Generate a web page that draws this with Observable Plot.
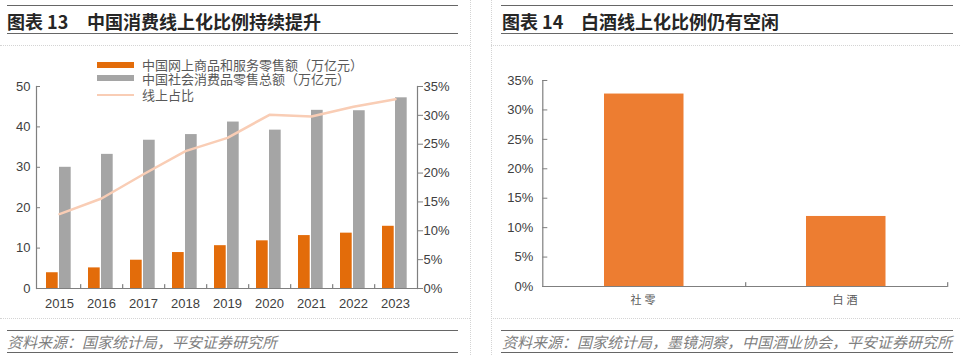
<!DOCTYPE html>
<html><head><meta charset="utf-8">
<script src="https://cdn.jsdelivr.net/npm/d3@7"></script>
<script src="https://cdn.jsdelivr.net/npm/@observablehq/plot@0.6"></script>
<style>
body{margin:0;background:#fff;width:960px;height:355px;position:relative;overflow:hidden;font-family:"Noto Sans CJK SC",sans-serif;}
.rule{position:absolute;height:0;border-top:1.5px solid #666;}
.title{position:absolute;font-size:18px;font-weight:bold;color:#262626;line-height:24px;white-space:nowrap;}
.title .num{display:inline-block;}
.src{position:absolute;font-size:15px;font-style:italic;color:#7f7f7f;line-height:20px;white-space:nowrap;}
.dot-h{position:absolute;height:0;border-top:1px dotted #d4d4d4;}
.dot-v{position:absolute;width:0;border-left:1px dotted #d4d4d4;}
.leg{position:absolute;font-size:13px;color:#595959;line-height:12px;white-space:nowrap;}
.sw{position:absolute;}
.plot{position:absolute;}
</style></head>
<body>
<div class="dot-h" style="left:0;top:45px;width:470px"></div>
<div class="dot-h" style="left:491px;top:45px;width:469px"></div>
<div class="dot-h" style="left:0;top:318px;width:470px"></div>
<div class="dot-h" style="left:491px;top:318px;width:469px"></div>
<div class="dot-v" style="left:470px;top:0;height:355px"></div>
<div class="dot-v" style="left:491px;top:0;height:355px"></div>

<div class="rule" style="left:7px;top:5px;width:451px"></div>
<div class="title" style="left:7px;top:9px"><span class="num" style="width:80px">图表 13</span>中国消费线上化比例持续提升</div>
<div class="rule" style="left:7px;top:33px;width:451px"></div>

<div class="rule" style="left:501px;top:5px;width:452px"></div>
<div class="title" style="left:502px;top:9px"><span class="num" style="width:79px">图表 14</span>白酒线上化比例仍有空闲</div>
<div class="rule" style="left:501px;top:33px;width:452px"></div>

<div id="left" class="plot" style="left:0;top:50px;width:470px;height:260px"></div>
<div id="leftOver" class="plot" style="left:0;top:50px;width:470px;height:260px"></div>
<div id="right" class="plot" style="left:492px;top:50px;width:468px;height:260px"></div>

<div id="legend"></div>

<div class="rule" style="left:7px;top:330px;width:451px"></div>
<div class="src" style="left:7px;top:332px">资料来源：国家统计局，平安证券研究所</div>
<div class="rule" style="left:7px;top:352px;width:451px"></div>

<div class="rule" style="left:501px;top:330px;width:452px"></div>
<div class="src" style="left:502px;top:332px">资料来源：国家统计局，墨镜洞察，中国酒业协会，平安证券研究所</div>
<div class="rule" style="left:501px;top:352px;width:452px"></div>

<script>
// ---------- data ----------
const years = ["2015","2016","2017","2018","2019","2020","2021","2022","2023"];
const onlineSales = [3.9, 5.1, 7.0, 8.9, 10.6, 11.8, 13.1, 13.7, 15.4];   // 中国网上商品和服务零售额（万亿元）
const totalSales  = [30.0, 33.2, 36.7, 38.1, 41.2, 39.2, 44.1, 44.0, 47.2]; // 中国社会消费品零售总额（万亿元）
const onlineShare = [0.129, 0.156, 0.198, 0.238, 0.261, 0.301, 0.298, 0.315, 0.328]; // 线上占比
const leftTicks = [0, 10, 20, 30, 40, 50];
const pctTicks = [0, 0.05, 0.10, 0.15, 0.20, 0.25, 0.30, 0.35];
const seriesNames = ["中国网上商品和服务零售额（万亿元）", "中国社会消费品零售总额（万亿元）", "线上占比"];

const cats = ["社零", "白酒"];
const catShare = [0.327, 0.119];

// ---------- styles ----------
const ORANGE = "#e36c0a", GRAY = "#a5a5a5", LINE = "#f9cdb5", ORANGE2 = "#ed7d31";
const AX = "#7f7f7f", TXT = "#404040";
const NUMFONT = "'Liberation Sans', Arial, sans-serif";
const CJK = "'Noto Sans CJK SC', sans-serif";
const pct = d => Math.round(d * 100) + "%";
const tickUp = {draw(context, l) { context.moveTo(0, 0); context.lineTo(0, -l); }};

const rows = years.map((y, i) => ({year: y, online: onlineSales[i], total: totalSales[i], share: onlineShare[i]}));
const rows2 = cats.map((c, i) => ({cat: c, share: catShare[i]}));

// ---------- left chart ----------
const LW = 470, LH = 260, LML = 36, LMR = 53, LMT = 36, LMB = 22;
const bw = (LW - LML - LMR) / years.length;
const baseStyle = {fontFamily: NUMFONT, fontSize: "13px", color: TXT, background: "transparent", overflow: "visible"};

const leftPlot = Plot.plot({
  width: LW, height: LH, marginLeft: LML, marginRight: LMR, marginTop: LMT, marginBottom: LMB,
  style: baseStyle,
  x: {type: "band", domain: years, padding: 0},
  y: {domain: [0, 50]},
  marks: [
    Plot.barY(rows, {x: "year", y: "online", fill: ORANGE, insetLeft: 8, insetRight: 22.3}),
    Plot.barY(rows, {x: "year", y: "total", fill: GRAY, insetLeft: 21, insetRight: 9.3}),
    Plot.ruleY([0], {stroke: AX, strokeWidth: 1.2}),
    Plot.frame({anchor: "left", stroke: AX, strokeWidth: 1.2}),
    Plot.vector(years.slice(0, -1), {x: d => d, y: () => 0, dx: bw / 2, length: 4, anchor: "start", shape: tickUp, stroke: AX, strokeWidth: 1.2}),
    Plot.axisY({ticks: leftTicks, tickSize: -4, tickPadding: 10, tickFormat: d => d, stroke: AX, fill: TXT, label: null}),
    Plot.axisX({tickSize: 0, tickPadding: 10, fill: TXT, label: null})
  ]
});
document.getElementById("left").appendChild(leftPlot);

const overPlot = Plot.plot({
  width: LW, height: LH, marginLeft: LML, marginRight: LMR, marginTop: LMT, marginBottom: LMB,
  style: baseStyle,
  x: {type: "band", domain: years, padding: 0, axis: null},
  y: {domain: [0, 0.35]},
  marks: [
    Plot.line(rows, {x: "year", y: "share", stroke: LINE, strokeWidth: 2.5}),
    Plot.frame({anchor: "right", stroke: AX, strokeWidth: 1.2}),
    Plot.axisY({anchor: "right", ticks: pctTicks, tickSize: 5, tickPadding: 1, tickFormat: pct, stroke: AX, fill: TXT, label: null})
  ]
});
document.getElementById("leftOver").appendChild(overPlot);

// legend (HTML, over the top of the left chart)
const legend = document.getElementById("legend");
const legItems = [
  {color: ORANGE, y: 62, h: 6, cy: 65},
  {color: GRAY, y: 75, h: 6, cy: 79},
  {color: LINE, y: 93.5, h: 2, cy: 94.5}
];
legItems.forEach((it, i) => {
  const sw = document.createElement("div");
  sw.className = "sw";
  sw.style.cssText = `left:97px;top:${it.y}px;width:37px;height:${it.h}px;background:${it.color}`;
  legend.appendChild(sw);
  const t = document.createElement("div");
  t.className = "leg";
  t.style.cssText = `left:142px;top:${it.cy - 6}px`;
  t.textContent = seriesNames[i];
  legend.appendChild(t);
});

// ---------- right chart ----------
const RW = 468, RH = 260, RML = 50.3, RMR = 13, RMT = 30, RMB = 24;
const bw2 = (RW - RML - RMR) / cats.length;
const rightPlot = Plot.plot({
  width: RW, height: RH, marginLeft: RML, marginRight: RMR, marginTop: RMT, marginBottom: RMB,
  style: baseStyle,
  x: {type: "band", domain: cats, padding: 0},
  y: {domain: [0, 0.35]},
  marks: [
    Plot.barY(rows2, {x: "cat", y: "share", fill: ORANGE2, insetLeft: 61, insetRight: 61.5}),
    Plot.ruleY([0], {stroke: AX, strokeWidth: 1.2}),
    Plot.frame({anchor: "left", stroke: AX, strokeWidth: 1.2}),
    Plot.vector(cats, {x: d => d, y: () => 0, dx: bw2 / 2, length: 4, anchor: "start", shape: tickUp, stroke: AX, strokeWidth: 1.2}),
    Plot.axisY({ticks: pctTicks, tickSize: -5, tickPadding: 14.6, tickFormat: pct, stroke: AX, fill: TXT, label: null}),
    Plot.axisX({tickSize: 0, tickPadding: 10, fontSize: 11, fontFamily: CJK, fill: "#595959", label: null})
  ]
});
d3.select(rightPlot).selectAll("g[aria-label='x-axis tick label'] text").attr("letter-spacing", "3");
document.getElementById("right").appendChild(rightPlot);
</script>
</body></html>
